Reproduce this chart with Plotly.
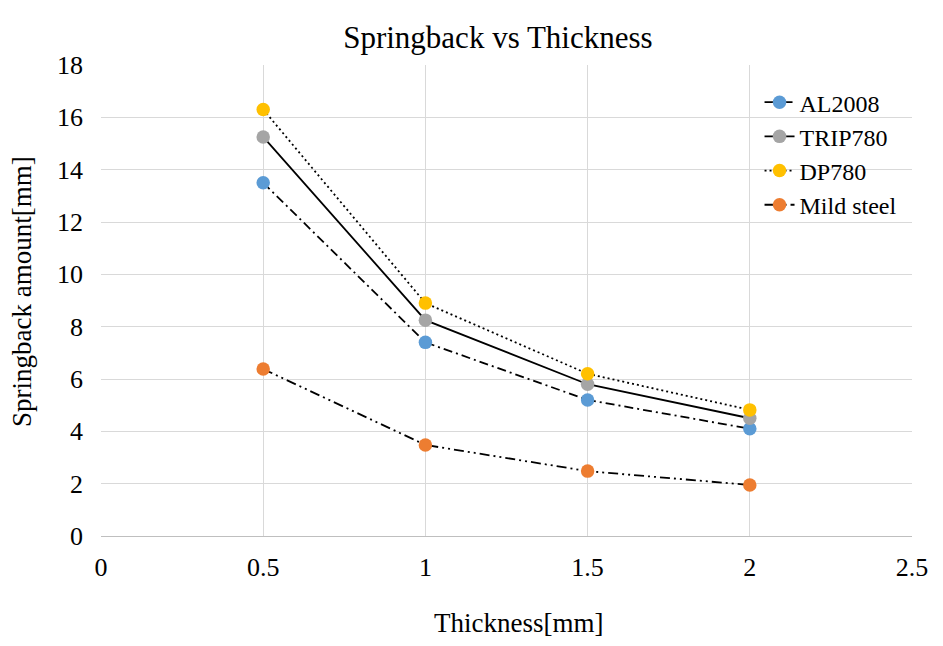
import plotly.graph_objects as go

thickness = [0.5, 1.0, 1.5, 2.0]
al2008 = [13.5, 7.4, 5.2, 4.1]
trip780 = [15.25, 8.25, 5.8, 4.5]
dp780 = [16.3, 8.9, 6.2, 4.82]
mild_steel = [6.38, 3.48, 2.48, 1.95]

series = [
    ("AL2008", al2008, "#5B9BD5", "9px,4px,2px,4px"),
    ("TRIP780", trip780, "#A5A5A5", "solid"),
    ("DP780", dp780, "#FFC000", "2px,3px"),
    ("Mild steel", mild_steel, "#ED7D31", "10px,4px,2px,4px,2px,4px"),
]

fig = go.Figure()
for name, vals, color, dash in series:
    fig.add_trace(go.Scatter(
        x=thickness, y=vals, name=name, mode="lines+markers",
        line=dict(color="black", width=1.8, dash=dash),
        marker=dict(color=color, size=13.5),
    ))

font = "Liberation Serif, Times New Roman, serif"
fig.update_layout(
    width=943, height=646,
    margin=dict(l=101, r=31, t=65, b=110),
    paper_bgcolor="white", plot_bgcolor="white",
    font=dict(family=font, size=24, color="black"),
    title=dict(text="Springback vs Thickness", x=0.528, xanchor="center",
               y=0.943, yanchor="middle", font=dict(size=31, family=font)),
    xaxis=dict(range=[0, 2.5], dtick=0.5, showgrid=True, gridcolor="#D9D9D9",
               zeroline=False, showline=True, linecolor="#BFBFBF",
               tickfont=dict(size=26, family=font), ticks="", ticklabelstandoff=8),
    yaxis=dict(range=[0, 18], dtick=2, showgrid=True, gridcolor="#D9D9D9",
               zeroline=False, showline=False, tickfont=dict(size=26, family=font),
               ticks="", ticklabelstandoff=17),
    legend=dict(x=0.812, y=0.968, xanchor="left", yanchor="top",
                bgcolor="rgba(0,0,0,0)", font=dict(size=24), tracegroupgap=0,
                itemwidth=30),
    annotations=[
        dict(text="Thickness[mm]", xref="paper", yref="paper",
             x=(518 - 101) / 811, y=-(623 - 536) / 471, xanchor="center", yanchor="middle",
             showarrow=False, font=dict(size=27, family=font)),
        dict(text="Springback amount[mm]", xref="paper", yref="paper",
             x=-(101 - 22) / 811, y=(536 - 292) / 471, xanchor="center", yanchor="middle",
             textangle=-90, showarrow=False, font=dict(size=27, family=font)),
    ],
)
fig.write_html("out.html")
